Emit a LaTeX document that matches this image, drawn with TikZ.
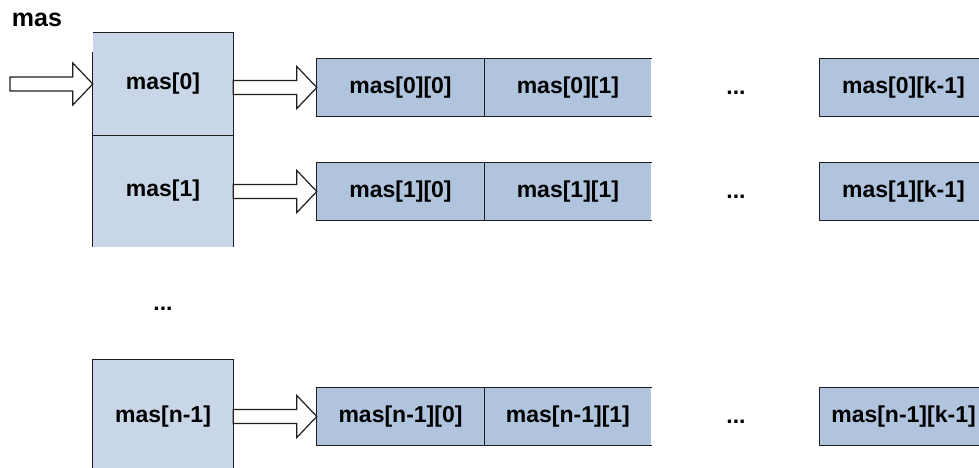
\documentclass[tikz,border=0pt]{standalone}
\usepackage{fontspec}
\setmainfont{Liberation Sans}
\usetikzlibrary{calc}
\definecolor{colbg}{RGB}{200,214,231}
\definecolor{cellbg}{RGB}{176,196,222}
\definecolor{edgec}{RGB}{30,30,30}
\newcommand\lbl{\bfseries\fontsize{23}{27}\selectfont}
% hollow block arrow from the first point to the tip at the second point
\newcommand\hollowarrow[2]{%
  \draw[hollow] let \p1=(#1), \p2=(#2) in
    (\x1,\y2+7pt) -- (\x2-20pt,\y2+7pt) -- (\x2-20pt,\y2+21pt) -- (\x2,\y2)
    -- (\x2-20pt,\y2-21pt) -- (\x2-20pt,\y2-7pt) -- (\x1,\y2-7pt) -- cycle;}
\begin{document}
\begin{tikzpicture}[x=1pt,y=-1pt,
  colfill/.style={fill=colbg, draw=none, inner sep=0pt, minimum width=140pt, font=\lbl},
  cellfill/.style={fill=cellbg, draw=none, inner sep=0pt, minimum width=167pt, minimum height=57pt, font=\lbl},
  edge/.style={draw=edgec, line width=1.3pt},
  hollow/.style={draw=edgec, fill=white, line width=1.2pt, line join=miter},
  dots/.style={font=\lbl, inner sep=0pt}]
\useasboundingbox (0,0) rectangle (979,468);
\clip (0,0) rectangle (979,468);

% label of the pointer array
\node[font=\bfseries\fontsize{25}{29}\selectfont, inner sep=0pt] (name) at (37,20) {mas};

% column of row pointers
\node[colfill, minimum height=102pt] (c0) at (163,84) {mas[0]};
\node[colfill, minimum height=112pt] (c1) at (163,191) {mas[1]};
\node[colfill, minimum height=114pt] (cn) at (163,417) {mas[n-1]};
\draw[edge] (c0.north west) -- (c0.north east) -- (c1.south east);
\draw[edge] ($(c0.north west)+(0,19)$) -- (c1.south west);
\draw[edge] (c0.south west) -- (c0.south east);
\draw[edge] (cn.south west) -- (cn.north west) -- (cn.north east) -- (cn.south east);
\node[dots] (vdots) at (163,309) {...};

% rows of elements
\foreach \r/\y/\i in {0/87.5/0, 1/191.5/1, n/416.5/n-1}{
  \node[cellfill] (a\r0) at (400.5,\y) {mas[\i][0]};
  \node[cellfill, anchor=west] (a\r1) at (a\r0.east) {mas[\i][1]};
  \node[cellfill] (a\r k) at (903.5,\y) {mas[\i][k-1]};
  \node[dots] (d\r) at (736,\y+5.5) {...};
  \draw[edge] (a\r0.north west) rectangle (a\r0.south east);
  \draw[edge] (a\r1.north west) -- (a\r1.north east) (a\r1.south west) -- (a\r1.south east);
  \draw[edge] (a\r k.north west) rectangle (a\r k.south east);
}

% pointers
\coordinate (in) at (10,84);
\hollowarrow{in}{c0.west}
\hollowarrow{c0.east}{a00.west}
\hollowarrow{c1.east}{a10.west}
\hollowarrow{cn.east}{an0.west}
\end{tikzpicture}
\end{document}
